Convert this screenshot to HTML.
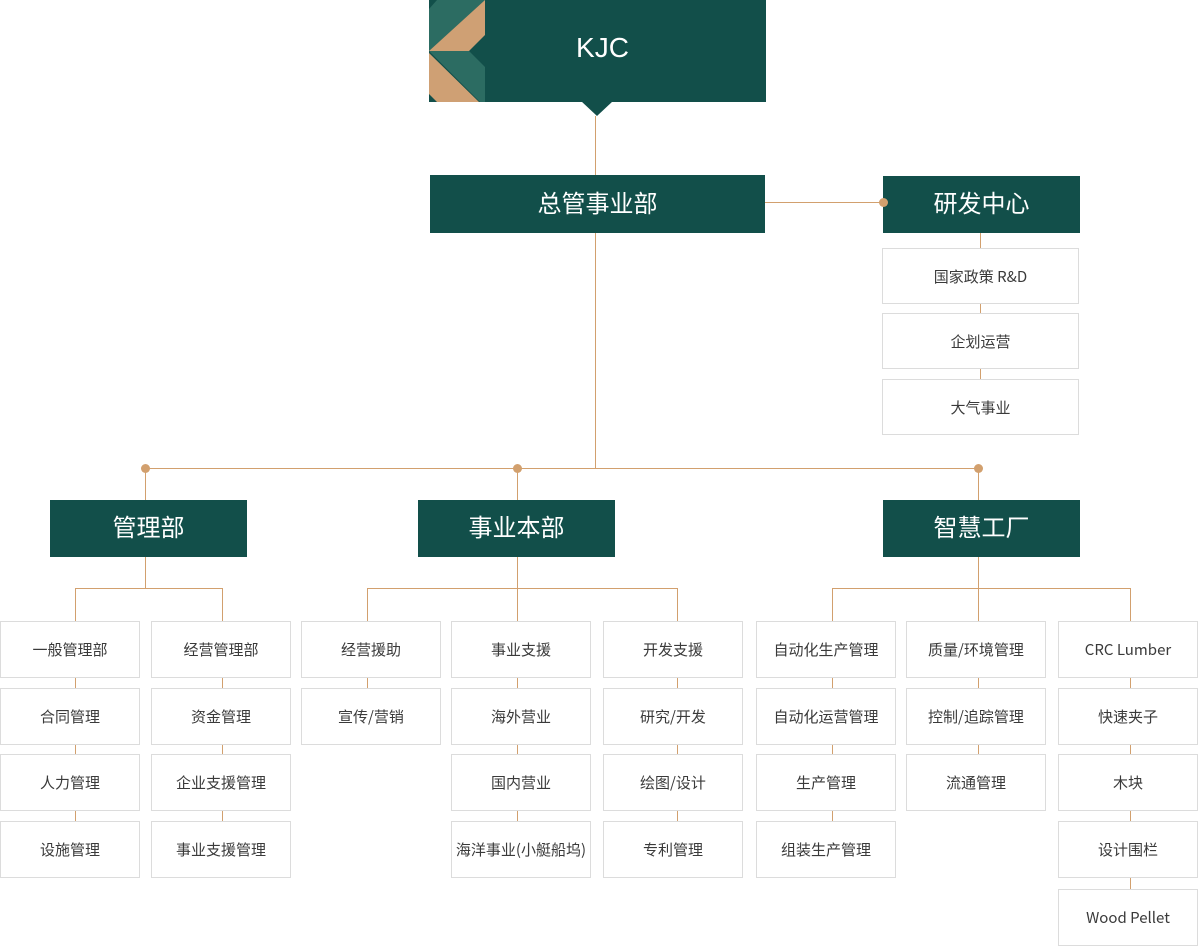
<!DOCTYPE html>
<html><head><meta charset="utf-8"><style>
body{margin:0;width:1198px;height:951px;position:relative;background:#fff;font-family:"Liberation Sans","Noto Sans CJK SC",sans-serif;overflow:hidden}
.g{position:absolute;background:#124f4a;color:#fff;font-size:24px;display:flex;align-items:center;justify-content:center;padding-bottom:6px;box-sizing:border-box}
.b{position:absolute;box-sizing:border-box;border:1px solid #dcdcdc;background:#fff;color:#3a3a3a;font-size:15px;display:flex;align-items:center;justify-content:center;width:140px;height:57px;font-family:"Noto Sans CJK SC","Liberation Sans",sans-serif}
.l{position:absolute;background:#d2a06e}
.v{width:1px}.h{height:1px}
.d{position:absolute;width:9px;height:9px;border-radius:50%;background:#d2a06e;z-index:2}
</style></head><body>
<div class="g" style="left:429px;top:0;width:337px;height:102px;font-size:28px;padding-left:10px">KJC</div>
<svg style="position:absolute;left:429px;top:0" width="56" height="102">
<polygon points="0,0 56,0 0,51" fill="#2c6c62"/>
<polygon points="0,0 8,0 0,9" fill="#124f4a"/>
<polygon points="56,0 56,35 40,51 0,51" fill="#cfa074"/>
<polygon points="0,51 40,51 56,67 56,102 51,102" fill="#2c6c62"/>
<polygon points="0,53 50,102 8,102 0,94" fill="#cfa074"/>
</svg>
<svg style="position:absolute;left:581px;top:101px" width="32" height="16"><polygon points="0,0 32,0 16,15" fill="#124f4a"/></svg>
<div class="l v" style="left:595px;top:116px;height:352px"></div>
<div class="g" style="left:430px;top:175px;width:335px;height:58px">总管事业部</div>
<div class="l h" style="left:765px;top:202px;width:118px"></div>
<div class="g" style="left:883px;top:176px;width:197px;height:57px">研发中心</div>
<div class="d" style="left:879px;top:198px"></div>
<div class="l v" style="left:980px;top:233px;height:170px"></div>
<div class="b" style="left:882px;top:248px;width:197px;height:56px">国家政策 R&amp;D</div>
<div class="b" style="left:882px;top:313px;width:197px;height:56px">企划运营</div>
<div class="b" style="left:882px;top:379px;width:197px;height:56px">大气事业</div>
<div class="l h" style="left:145px;top:468px;width:833px"></div>
<div class="d" style="left:141px;top:464px"></div><div class="d" style="left:513px;top:464px"></div><div class="d" style="left:974px;top:464px"></div>
<div class="l v" style="left:145px;top:468px;height:32px"></div>
<div class="l v" style="left:517px;top:468px;height:32px"></div>
<div class="l v" style="left:978px;top:468px;height:32px"></div>
<div class="g" style="left:50px;top:500px;width:197px;height:57px">管理部</div>
<div class="g" style="left:418px;top:500px;width:197px;height:57px">事业本部</div>
<div class="g" style="left:883px;top:500px;width:197px;height:57px">智慧工厂</div>
<div class="l v" style="left:145px;top:557px;height:31px"></div>
<div class="l v" style="left:517px;top:557px;height:31px"></div>
<div class="l v" style="left:978px;top:557px;height:31px"></div>
<div class="l h" style="left:75px;top:588px;width:148px"></div>
<div class="l h" style="left:367px;top:588px;width:311px"></div>
<div class="l h" style="left:832px;top:588px;width:299px"></div>
<div class="l v" style="left:75px;top:588px;height:260px"></div>
<div class="l v" style="left:222px;top:588px;height:260px"></div>
<div class="l v" style="left:367px;top:588px;height:120px"></div>
<div class="l v" style="left:517px;top:588px;height:260px"></div>
<div class="l v" style="left:677px;top:588px;height:260px"></div>
<div class="l v" style="left:832px;top:588px;height:260px"></div>
<div class="l v" style="left:978px;top:588px;height:190px"></div>
<div class="l v" style="left:1130px;top:588px;height:330px"></div>
<div class="b" style="left:0;top:621px">一般管理部</div>
<div class="b" style="left:0;top:688px">合同管理</div>
<div class="b" style="left:0;top:754px">人力管理</div>
<div class="b" style="left:0;top:821px">设施管理</div>
<div class="b" style="left:151px;top:621px">经营管理部</div>
<div class="b" style="left:151px;top:688px">资金管理</div>
<div class="b" style="left:151px;top:754px">企业支援管理</div>
<div class="b" style="left:151px;top:821px">事业支援管理</div>
<div class="b" style="left:301px;top:621px">经营援助</div>
<div class="b" style="left:301px;top:688px">宣传/营销</div>
<div class="b" style="left:451px;top:621px">事业支援</div>
<div class="b" style="left:451px;top:688px">海外营业</div>
<div class="b" style="left:451px;top:754px">国内营业</div>
<div class="b" style="left:451px;top:821px">海洋事业(小艇船坞)</div>
<div class="b" style="left:603px;top:621px">开发支援</div>
<div class="b" style="left:603px;top:688px">研究/开发</div>
<div class="b" style="left:603px;top:754px">绘图/设计</div>
<div class="b" style="left:603px;top:821px">专利管理</div>
<div class="b" style="left:756px;top:621px">自动化生产管理</div>
<div class="b" style="left:756px;top:688px">自动化运营管理</div>
<div class="b" style="left:756px;top:754px">生产管理</div>
<div class="b" style="left:756px;top:821px">组装生产管理</div>
<div class="b" style="left:906px;top:621px">质量/环境管理</div>
<div class="b" style="left:906px;top:688px">控制/追踪管理</div>
<div class="b" style="left:906px;top:754px">流通管理</div>
<div class="b" style="left:1058px;top:621px">CRC Lumber</div>
<div class="b" style="left:1058px;top:688px">快速夹子</div>
<div class="b" style="left:1058px;top:754px">木块</div>
<div class="b" style="left:1058px;top:821px">设计围栏</div>
<div class="b" style="left:1058px;top:889px">Wood Pellet</div>
</body></html>
